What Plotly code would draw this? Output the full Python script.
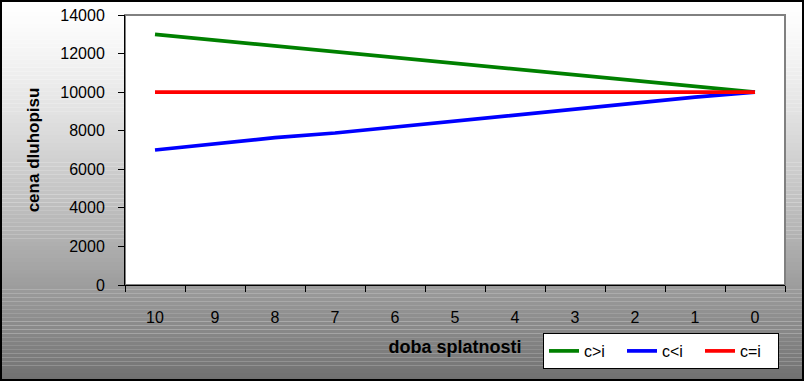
import plotly.graph_objects as go

# ---- data ----
categories = ["10", "9", "8", "7", "6", "5", "4", "3", "2", "1", "0"]
c_gt_i = [13000, 12700, 12420, 12130, 11830, 11530, 11220, 10920, 10620, 10320, 10000]
c_lt_i = [7000, 7330, 7640, 7880, 8190, 8520, 8830, 9130, 9430, 9740, 10000]
c_eq_i = [10000, 10000, 10000, 10000, 10000, 10000, 10000, 10000, 10000, 10000, 10000]
series_names = ["c>i", "c<i", "c=i"]
y_ticks = [0, 2000, 4000, 6000, 8000, 10000, 12000, 14000]
y_tick_labels = ["0", "2000", "4000", "6000", "8000", "10000", "12000", "14000"]

W, H = 804, 381
L, R, T, B = 125, 785, 15, 285  # plot area in pixels

def px2x(px):
    return (px - L) / (R - L)

def py2y(py):
    return (B - py) / (B - T)

fig = go.Figure()
colors = ["#008000", "#0000FF", "#FF0000"]
for name, vals, col in zip(series_names, [c_gt_i, c_lt_i, c_eq_i], colors):
    fig.add_trace(go.Scatter(x=categories, y=vals, name=name, mode="lines",
                             line=dict(color=col, width=3.7)))

# gradient background via thin bands
shapes = []
n = 96
for i in range(n):
    t0 = i / n
    t1 = (i + 1) / n
    tm = (t0 + t1) / 2
    v = int(round(255 - (255 - 112) * tm ** 1.3))
    col = f"rgb({v},{v},{v})"
    shapes.append(dict(type="rect", xref="paper", yref="paper", layer="below",
                       x0=px2x(0), x1=px2x(W), y0=py2y(t0 * H), y1=py2y(t1 * H) - 0.0005,
                       fillcolor=col, line=dict(width=0)))
# white plot area with gray frame
shapes.append(dict(type="rect", xref="paper", yref="paper", layer="below",
                   x0=0, x1=1, y0=0, y1=1, fillcolor="white",
                   line=dict(color="#808080", width=2)))
# outer black border
shapes.append(dict(type="rect", xref="paper", yref="paper", layer="above",
                   x0=px2x(1), x1=px2x(W - 1), y0=py2y(1), y1=py2y(H - 1),
                   fillcolor="rgba(0,0,0,0)", line=dict(color="black", width=2)))

font = "Liberation Sans, Arial, sans-serif"
fig.update_layout(
    width=W, height=H,
    margin=dict(l=L, r=W - R, t=T, b=H - B, pad=0, autoexpand=False),
    paper_bgcolor="white", plot_bgcolor="rgba(0,0,0,0)",
    shapes=shapes,
    font=dict(family=font, size=16, color="black"),
    showlegend=True,
    legend=dict(orientation="h", x=px2x(543), y=py2y(333), xanchor="left", yanchor="top",
                bgcolor="white", bordercolor="black", borderwidth=1,
                font=dict(size=16), entrywidth=33, itemwidth=30,
                tracegroupgap=0),
    xaxis=dict(type="category", showline=True, linecolor="black", linewidth=1,
               ticks="outside", ticklen=6, tickcolor="black", tickson="boundaries",
               showgrid=False, zeroline=False, ticklabelstandoff=18, automargin=False,
               title=dict(text="<b>doba splatnosti</b>", font=dict(size=18), standoff=15),
               range=[-0.5, 10.5]),
    yaxis=dict(range=[0, 14000], tickvals=y_ticks, ticktext=y_tick_labels,
               showline=True, linecolor="black",
               linewidth=1, ticks="outside", ticklen=6, tickcolor="black",
               showgrid=False, zeroline=False, ticklabelstandoff=10, automargin=False,
               title=dict(text="<b>cena dluhopisu</b>", font=dict(size=17), standoff=16)),
)

fig.write_html("out.html", config={"displayModeBar": False})

# remove default browser body margin so the figure fills the window exactly
with open("out.html", "r", encoding="utf-8") as f:
    html = f.read()
html = html.replace("<head>", "<head><style>html,body{margin:0;padding:0;overflow:hidden;}</style>", 1)
with open("out.html", "w", encoding="utf-8") as f:
    f.write(html)
